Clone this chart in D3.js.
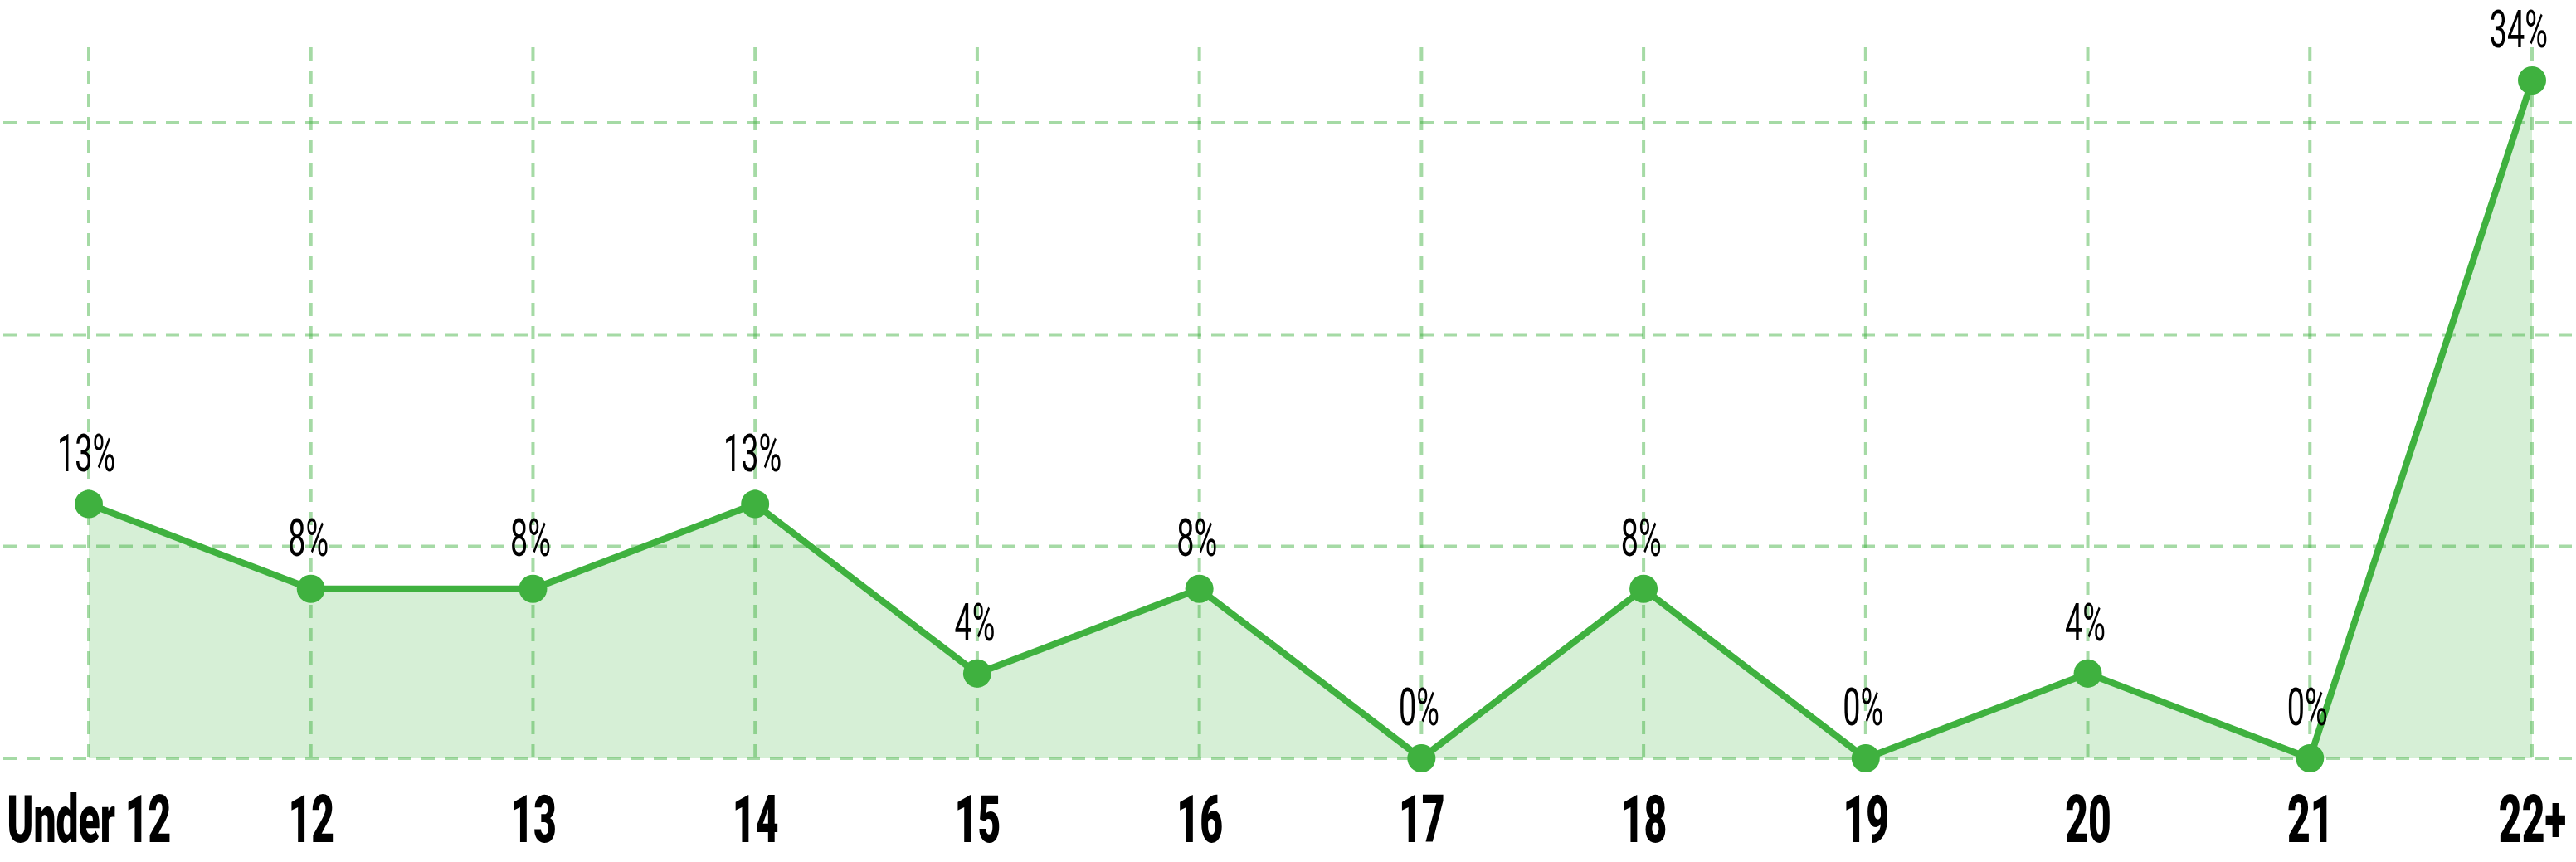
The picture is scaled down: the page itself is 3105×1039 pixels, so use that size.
<!DOCTYPE html>
<html>
<head>
<meta charset="utf-8">
<script src="https://cdn.jsdelivr.net/npm/d3@7"></script>
<style>
  html, body { margin: 0; padding: 0; background: #ffffff; }
  svg { display: block; }
</style>
</head>
<body>
<svg id="chart" width="3105" height="1039"></svg>
<script>
// ---- data ----
const categories = ["Under 12", "12", "13", "14", "15", "16", "17", "18", "19", "20", "21", "22+"];
const values = [12.5, 8.33, 8.33, 12.5, 4.17, 8.33, 0, 8.33, 0, 4.17, 0, 33.33];
const valueLabels = ["13%", "8%", "8%", "13%", "4%", "8%", "0%", "8%", "0%", "4%", "0%", "34%"];
const yTicks = [0, 10.42, 20.83, 31.25];

// ---- layout ----
const W = 3105, H = 1039;
const green = "#3fb13f";
const fillGreen = "#d6efd6";

const svg = d3.select("#chart");
svg.append("rect").attr("width", W).attr("height", H).attr("fill", "#fff");

const x = d3.scalePoint().domain(categories).range([107, 3052]);
const y = d3.scaleLinear().domain([0, d3.max(values)]).range([914, 97]);

const data = categories.map((c, i) => ({ c, v: values[i], label: valueLabels[i] }));

// area fill
const area = d3.area().x(d => x(d.c)).y0(y(0)).y1(d => y(d.v));
svg.append("path").datum(data).attr("d", area).attr("fill", fillGreen);

// gridlines
const grid = svg.append("g")
  .attr("stroke", green).attr("stroke-opacity", 0.47)
  .attr("stroke-width", 4).attr("stroke-dasharray", "16,12");

grid.selectAll("line.h").data(yTicks).join("line")
  .attr("class", "h")
  .attr("x1", 4).attr("x2", W)
  .attr("y1", d => y(d)).attr("y2", d => y(d));

grid.selectAll("line.v").data(categories).join("line")
  .attr("class", "v")
  .attr("x1", d => x(d)).attr("x2", d => x(d))
  .attr("y1", 57).attr("y2", y(0));

// line
const line = d3.line().x(d => x(d.c)).y(d => y(d.v));
svg.append("path").datum(data).attr("d", line)
  .attr("fill", "none").attr("stroke", green).attr("stroke-width", 8)
  .attr("stroke-linejoin", "round");

// points
svg.selectAll("circle.pt").data(data).join("circle")
  .attr("class", "pt")
  .attr("cx", d => x(d.c)).attr("cy", d => y(d.v)).attr("r", 17)
  .attr("fill", green);

// value labels
const vScale = 0.6;
const vl = svg.selectAll("g.vl").data(data).join("g").attr("class", "vl");
vl.append("text")
  .attr("text-anchor", "middle")
  .attr("font-family", "Roboto, 'Noto Sans', sans-serif")
  .attr("font-weight", 400)
  .attr("font-size", 63)
  .attr("fill", "#000")
  .text(d => d.label);
vl.each(function(d) {
  const t = d3.select(this).select("text").node();
  const w = t.getComputedTextLength() * vScale;
  let cx = x(d.c) - 3;
  if (cx + w / 2 > W - 34) cx = W - 34 - w / 2;
  d3.select(this).attr("transform", `translate(${cx},${y(d.v) - 40}) scale(${vScale},1)`);
});

// category labels (x axis)
const xAxis = d3.axisBottom(x).tickSize(0).tickPadding(0);
const ax = svg.append("g").call(xAxis);
ax.select(".domain").remove();
ax.selectAll(".tick text").remove();
ax.selectAll(".tick").each(function(d) {
  d3.select(this).append("text")
    .attr("text-anchor", "middle")
    .attr("transform", `translate(0,1015) scale(0.6,1)`)
    .attr("font-family", "Roboto, 'Noto Sans', sans-serif")
    .attr("font-weight", 900)
    .attr("font-size", 80)
    .attr("fill", "#000")
    .text(d);
});
</script>
</body>
</html>
